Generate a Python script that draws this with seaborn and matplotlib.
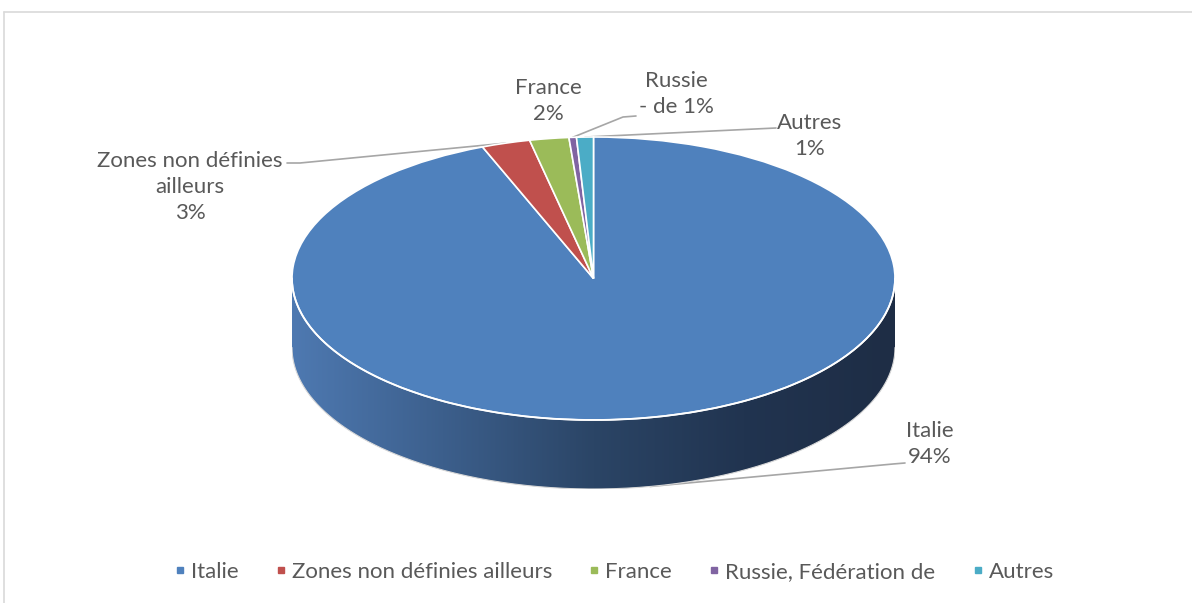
import numpy as np
import matplotlib
matplotlib.use("Agg")
import matplotlib.pyplot as plt
import seaborn as sns
from matplotlib.patches import Polygon
from matplotlib.lines import Line2D
from matplotlib.colors import LinearSegmentedColormap

# data (shares in %)
categories = ["Italie", "Zones non définies ailleurs", "France", "Russie, Fédération de", "Autres"]
shares = [94.0, 2.6, 2.1, 0.4, 0.9]
slice_labels = ["Italie\n94%", "Zones non définies\nailleurs\n3%", "France\n2%", "Russie\n- de 1%", "Autres\n1%"]
colors = ["#4f81bd", "#c0504d", "#9bbb59", "#8064a2", "#4bacc6"]

sns.set_theme(style="white")
plt.rcParams["font.family"] = ["Lato", "DejaVu Sans"]

W, H = 1192, 603
fig = plt.figure(figsize=(W / 100, H / 100), dpi=100)
fig.patch.set_facecolor("white")

# geometry of the tilted pie, in pixels
cx, cy, rx, ry, depth_px = 593.5, 278.5, 301.5, 141.5, 69
depth = depth_px / ry

# overlay axes in pixel coordinates for labels, leader lines and frame
over = fig.add_axes([0, 0, 1, 1])
over.set_xlim(0, W)
over.set_ylim(H, 0)
over.axis("off")

ax = fig.add_axes([(cx - rx) / W, (H - (cy + ry + depth_px)) / H,
                   2 * rx / W, (2 * ry + depth_px) / H])
wedges, _ = ax.pie(shares, colors=colors, startangle=90, counterclock=False, radius=1,
                   wedgeprops=dict(edgecolor="white", linewidth=1.2))

# side wall (front half) with horizontal shading
phi = np.linspace(0, -np.pi, 300)
top_edge = np.column_stack([np.cos(phi), np.sin(phi)])
bot_edge = np.column_stack([np.cos(phi[::-1]), np.sin(phi[::-1]) - depth])
side = Polygon(np.vstack([top_edge, bot_edge]), closed=True, facecolor="none",
               edgecolor="none", transform=ax.transData)
ax.add_patch(side)
cmap = LinearSegmentedColormap.from_list(
    "side", ["#4e79b1", "#3c5f8c", "#2b4566", "#213450", "#1e2d45"])
im = ax.imshow(np.linspace(0, 1, 256)[None, :], cmap=cmap, extent=(-1, 1, -1 - depth, 0),
               aspect="auto", zorder=0.5, interpolation="bilinear")
im.set_clip_path(side)
ax.plot(np.cos(phi), np.sin(phi), color="white", lw=1.3, zorder=2)
ax.plot(np.cos(phi), np.sin(phi) - depth, color="#d8d8d8", lw=0.8, zorder=2)

ax.set_aspect("auto")
ax.set_xlim(-1, 1)
ax.set_ylim(-1 - depth, 1)
ax.axis("off")


def to_px(x, y):
    disp = ax.transData.transform((x, y))
    return over.transData.inverted().transform(disp)


# mid angles of slices
fr = np.array(shares) / sum(shares)
starts = 90 - 360 * np.concatenate([[0], np.cumsum(fr)[:-1]])
mids = np.radians(starts - 180 * fr)

label_pos = [(930, 444), (190, 187), (548, 101), (676, 94), (810, 136)]
leader_start = [(905, 463), (287, 163), None, (636, 116), (776, 128)]
leader_elbow = [(893, 464), (300, 163), None, (623, 117), None]

txt_color = "#595959"
line_color = "#a6a6a6"
for i, lab in enumerate(slice_labels):
    over.text(*label_pos[i], lab, ha="center", va="center", fontsize=16,
              color=txt_color, linespacing=1.35)
    if leader_start[i] is None:
        continue
    if i == 0:
        tx, ty = to_px(np.cos(mids[i]), np.sin(mids[i]) - depth)
    else:
        tx, ty = to_px(np.cos(mids[i]), np.sin(mids[i]))
    xs = [leader_start[i][0]]
    ys = [leader_start[i][1]]
    if leader_elbow[i] is not None:
        xs.append(leader_elbow[i][0])
        ys.append(leader_elbow[i][1])
    xs.append(tx)
    ys.append(ty)
    over.plot(xs, ys, color=line_color, lw=1.2, zorder=5)

# chart frame (only top and left edges visible)
over.plot([3.5, W], [11.5, 11.5], color="#d9d9d9", lw=1.2)
over.plot([3.5, 3.5], [11.5, H], color="#d9d9d9", lw=1.2)

handles = [Line2D([], [], marker="s", linestyle="none", markersize=5,
                  markerfacecolor=c, markeredgecolor=c) for c in colors]
fig.legend(handles, categories, loc="center", bbox_to_anchor=(613.5 / W, 1 - 572 / H),
           ncol=5, frameon=False, handletextpad=0.2, columnspacing=1.6,
           handlelength=0.6, labelcolor=txt_color,
           prop={"family": ["Lato", "DejaVu Sans"], "size": 16})

fig.savefig("out.png", dpi=100)
